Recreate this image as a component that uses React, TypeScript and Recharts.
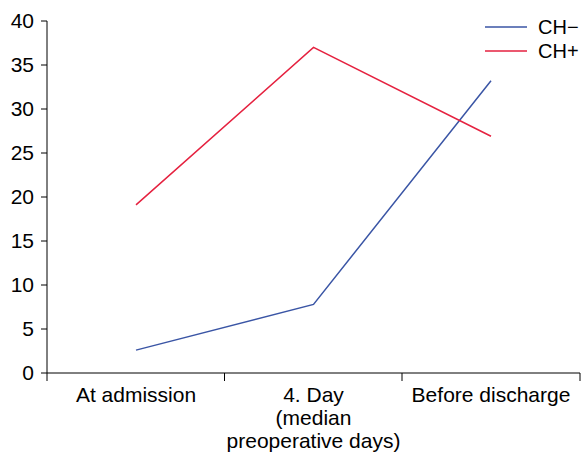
import { LineChart, Line, XAxis, YAxis, Legend } from 'recharts'

// values
const categories = ['At admission', '4. Day\n(median\npreoperative days)', 'Before discharge']
const chMinus = [2.6, 7.8, 33.2]
const chPlus = [19.1, 37.0, 26.9]
const yTicks = [0, 5, 10, 15, 20, 25, 30, 35, 40]

const data = categories.map((name, i) => ({ name, chMinus: chMinus[i], chPlus: chPlus[i] }))

const series = [
    { key: 'chMinus', name: 'CH−', color: '#3a55a5' },
    { key: 'chPlus', name: 'CH+', color: '#e5213f' },
]

const FONT = '"Liberation Sans", Arial, sans-serif'
const HALF_STEP = 89

function CategoryTick(props: any) {
    const { x, y, payload, index } = props
    const lines = String(payload.value).split('\n')
    const top = y - 8
    return (
        <g>
            <line x1={x - HALF_STEP} x2={x - HALF_STEP} y1={top} y2={top + 8} stroke="#000" />
            {index === categories.length - 1 && (
                <line x1={x + HALF_STEP} x2={x + HALF_STEP} y1={top} y2={top + 8} stroke="#000" />
            )}
            <text textAnchor="middle" fontSize={21} fontFamily={FONT} fill="#000">
                {lines.map((l, i) => (
                    <tspan key={i} x={x} y={top + 28.5 + i * 23}>{l}</tspan>
                ))}
            </text>
        </g>
    )
}

function LegendBox() {
    // fixed order, same as the series list
    return (
        <div style={{ fontFamily: FONT, fontSize: 20, color: '#000' }}>
            {series.map((s) => (
                <div key={s.key} style={{ display: 'flex', alignItems: 'center', height: 24 }}>
                    <svg width={42} height={4} style={{ marginRight: 11 }}>
                        <line x1={0} x2={42} y1={2} y2={2} stroke={s.color} strokeWidth={1.5} />
                    </svg>
                    <span>{s.name}</span>
                </div>
            ))}
        </div>
    )
}

export default function App() {
    return (
        <div style={{ width: 582, height: 452, background: '#fff' }}>
            <style>{'body{margin:0}'}</style>
            <LineChart width={582} height={452} data={data} margin={{ top: 21, right: 2, bottom: 0, left: 0 }}>
                <XAxis
                    dataKey="name"
                    interval={0}
                    height={79}
                    padding={{ left: HALF_STEP, right: HALF_STEP }}
                    stroke="#000"
                    tickLine={false}
                    tickSize={8}
                    tickMargin={0}
                    tick={<CategoryTick />}
                />
                <YAxis
                    width={47}
                    domain={[0, 40]}
                    ticks={yTicks}
                    interval={0}
                    stroke="#000"
                    tickSize={6}
                    tickMargin={7}
                    tick={{ fill: '#000', fontSize: 21, fontFamily: FONT }}
                />
                <Legend
                    layout="vertical"
                    verticalAlign="middle"
                    align="center"
                    content={<LegendBox />}
                    wrapperStyle={{ top: 15, left: 485, width: 100 }}
                />
                {series.map((s) => (
                    <Line
                        key={s.key}
                        dataKey={s.key}
                        name={s.name}
                        stroke={s.color}
                        strokeWidth={1.5}
                        dot={false}
                        isAnimationActive={false}
                    />
                ))}
            </LineChart>
        </div>
    )
}
